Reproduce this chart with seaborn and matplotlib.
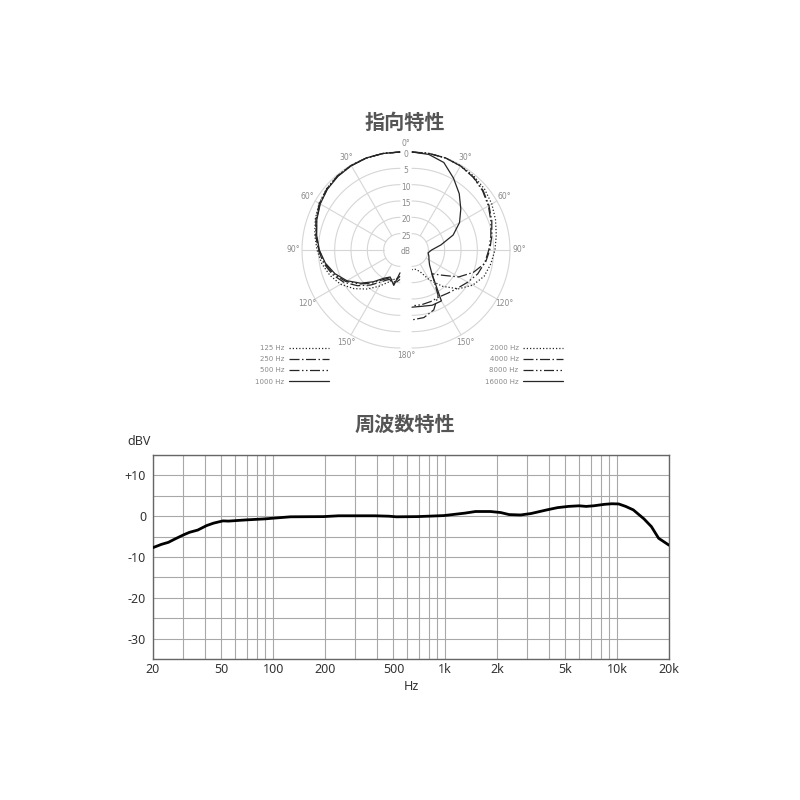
import numpy as np
import pandas as pd
import matplotlib
matplotlib.use("Agg")
import matplotlib.pyplot as plt
import seaborn as sns

# ---- directivity data (attenuation in dB, per angle) ----
angles_deg = [0, 10, 20, 30, 40, 50, 60, 70, 80, 90, 100, 110, 120, 130, 140, 150, 160, 170, 180]

att_125 = [0, 0, 0, 0.1, 0.3, 0.7, 1.4, 2.4, 3.5, 4.6, 5.7, 7.2, 9.0, 11.6, 14.4, 17.2, 19.5, 21.0, 21.5]
att_250 = [0, 0, 0, 0.1, 0.3, 0.8, 1.5, 2.6, 3.8, 5.0, 6.3, 8.0, 10.2, 13.0, 16.0, 18.8, 20.5, 19.5, 21.0]
att_500 = [0, 0, 0, 0.2, 0.4, 0.9, 1.7, 2.8, 4.0, 5.2, 6.6, 8.4, 10.8, 13.8, 16.8, 19.5, 21.0, 20.0, 22.0]
att_1000 = [0, 0, 0, 0.2, 0.5, 1.0, 1.8, 2.9, 4.1, 5.3, 6.8, 8.8, 11.2, 14.2, 17.3, 20.0, 21.2, 19.0, 23.0]

att_2000 = [0, 0, 0, 0.2, 0.5, 1.0, 1.8, 2.8, 3.8, 4.6, 5.5, 6.5, 8.5, 11.5, 15.5, 19.5, 23.0, 24.0, 24.0]
att_4000 = [0, 0, 0, 0.3, 0.8, 1.6, 2.8, 4.0, 5.2, 6.2, 7.2, 10.0, 13.5, 18.0, 20.5, 14.0, 10.5, 9.0, 8.6]
att_8000 = [0, 0, 0, 0.3, 0.9, 1.8, 3.0, 4.3, 5.5, 6.5, 7.4, 8.6, 10.3, 11.8, 12.8, 13.4, 13.2, 13.0, 12.9]
att_16000 = [0, 0.3, 1.5, 4.6, 7.5, 10.5, 13.2, 16.6, 21.0, 24.0, 25.0, 24.5, 24.0, 23.0, 20.5, 12.0, 12.0, 12.5, 12.5]

low_labels = ["125 Hz", "250 Hz", "500 Hz", "1000 Hz"]
high_labels = ["2000 Hz", "4000 Hz", "8000 Hz", "16000 Hz"]
ring_db = [0, 5, 10, 15, 20, 25]
spoke_deg = [30, 60, 90, 120, 150]

# ---- frequency response data ----
freq_hz = [20, 22.4, 24.6, 26.5, 30, 32.6, 36.4, 41, 45, 51, 55, 70, 90, 99, 126, 196, 240,
           390, 470, 520, 690, 980, 1300, 1500, 1830, 2100, 2350, 2740, 3150, 3900, 4500,
           5200, 6000, 6600, 7300, 8400, 9300, 10200, 11200, 12400, 14300, 15800, 17400, 20000]
level_dbv = [-7.7, -6.9, -6.4, -5.7, -4.6, -3.95, -3.4, -2.3, -1.7, -1.15, -1.2, -0.9, -0.65, -0.5,
             -0.15, -0.1, 0.1, 0.1, 0.0, -0.15, -0.1, 0.15, 0.75, 1.15, 1.15, 0.9, 0.4, 0.3, 0.65,
             1.55, 2.1, 2.4, 2.55, 2.4, 2.55, 2.9, 3.05, 3.0, 2.4, 1.55, -0.65, -2.55, -5.4, -7.1]
xtick_pos = [20, 50, 100, 200, 500, 1000, 2000, 5000, 10000, 20000]
xtick_lab = ["20", "50", "100", "200", "500", "1k", "2k", "5k", "10k", "20k"]
ytick_pos = [10, 0, -10, -20, -30]
ytick_lab = ["+10", "0", "-10", "-20", "-30"]

sns.set_theme(style="white")
plt.rcParams['font.family'] = ['Noto Sans', 'Noto Sans CJK JP', 'DejaVu Sans']

fig = plt.figure(figsize=(8, 8), dpi=100)
fig.patch.set_facecolor('white')

TITLE_KW = dict(family=['Noto Sans CJK JP'], fontweight='bold', fontsize=14.5, color='#555555',
                ha='center', va='center')
fig.text(405 / 800, 1 - 122 / 800, "指向特性", **TITLE_KW)
fig.text(405 / 800, 1 - 424 / 800, "周波数特性", **TITLE_KW)

# ==========================================
# polar (split half-disks) in pixel-like units
# ==========================================
axp = fig.add_axes([250 / 800, 1 - 395 / 800, 312 / 800, 265 / 800])
axp.set_xlim(-156, 156)
axp.set_ylim(-145, 120)
axp.axis('off')

R = 98.0
GAP = 6.0
GRID_C = '#d6d6d6'
LBL_C = '#8a8a8a'
r_in = R * (30 - 25) / 30


def to_xy(att, side):
    th = np.radians(angles_deg)
    r = R * (30 - np.asarray(att, dtype=float)) / 30
    return side * (GAP + r * np.sin(th)), r * np.cos(th)


th = np.linspace(0, np.pi, 181)
for d in ring_db:
    r = R * (30 - d) / 30
    for side in (-1, 1):
        axp.plot(side * (GAP + r * np.sin(th)), r * np.cos(th), color=GRID_C, lw=0.8, zorder=1)
    axp.text(0, r - 2.5, str(d), ha='center', va='center', fontsize=5.5, color=LBL_C,
             family='DejaVu Sans')
axp.text(0, -1, "dB", ha='center', va='center', fontsize=5.5, color=LBL_C, family='DejaVu Sans')
axp.text(0, 107, "0°", ha='center', va='center', fontsize=5.5, color=LBL_C, family='DejaVu Sans')
axp.text(0, -106, "180°", ha='center', va='center', fontsize=5.5, color=LBL_C, family='DejaVu Sans')

for a in spoke_deg:
    t = np.radians(a)
    for side in (-1, 1):
        axp.plot([side * (GAP + r_in * np.sin(t)), side * (GAP + R * np.sin(t))],
                 [r_in * np.cos(t), R * np.cos(t)], color=GRID_C, lw=0.8, zorder=1)
        axp.text(side * (GAP + 107 * np.sin(t)), 107 * np.cos(t), f"{a}°", ha='center', va='center',
                 fontsize=5.5, color=LBL_C, family='DejaVu Sans')

styles = [(0, (1, 1.6)), (0, (8, 2, 1.2, 2)), (0, (8, 2, 1.2, 2, 1.2, 2)), '-']
CURVE_C = '#262626'

low_lines = []
for att, ls in zip([att_125, att_250, att_500, att_1000], styles):
    x, y = to_xy(att, -1)
    ln, = axp.plot(x, y, color=CURVE_C, lw=0.9, ls=ls, zorder=3)
    low_lines.append(ln)

high_lines = []
for att, ls in zip([att_2000, att_4000, att_8000, att_16000], styles):
    x, y = to_xy(att, 1)
    ln, = axp.plot(x, y, color=CURVE_C, lw=0.9, ls=ls, zorder=3)
    high_lines.append(ln)

leg_kw = dict(markerfirst=False, frameon=False, handlelength=5.8, handletextpad=0.6,
              labelspacing=0.75, borderpad=0, borderaxespad=0, labelcolor=LBL_C,
              bbox_transform=fig.transFigure, prop={'family': 'DejaVu Sans', 'size': 5})
leg1 = axp.legend(low_lines, low_labels, loc='upper right',
                  bbox_to_anchor=(329 / 800, 1 - 345 / 800), **leg_kw)
axp.add_artist(leg1)
axp.legend(high_lines, high_labels, loc='upper right',
           bbox_to_anchor=(563 / 800, 1 - 345 / 800), **leg_kw)

# ==========================================
# frequency response
# ==========================================
axf = fig.add_axes([153 / 800, 1 - 659 / 800, 516 / 800, 204 / 800])
df = pd.DataFrame({'Hz': freq_hz, 'dBV': level_dbv})
sns.lineplot(data=df, x='Hz', y='dBV', ax=axf, color='black', lw=2, zorder=3)
axf.set_xscale('log')
axf.set_xlim(20, 20000)
axf.set_ylim(-35, 15)

minor_x = [m * 10 ** e for e in range(1, 5) for m in range(1, 10) if 20 <= m * 10 ** e <= 20000]
axf.set_xticks(minor_x, minor=True)
axf.set_xticks(xtick_pos)
axf.set_xticklabels(xtick_lab)
axf.set_yticks(list(range(-35, 16, 5)), minor=True)
axf.set_yticks(ytick_pos)
axf.set_yticklabels(ytick_lab)
axf.xaxis.set_minor_formatter(matplotlib.ticker.NullFormatter())
axf.tick_params(which='both', length=0, labelsize=9, colors='#333333')
axf.tick_params(axis='x', pad=3)
axf.tick_params(axis='y', pad=5)
axf.grid(True, which='both', color='#a8a8a8', lw=0.8)
for sp in axf.spines.values():
    sp.set_color('#666666')
    sp.set_linewidth(1.0)
axf.set_xlabel("Hz", fontsize=9, color='#333333', labelpad=3)
axf.set_ylabel("")
axf.text(-0.05, 1.065, "dBV", transform=axf.transAxes, fontsize=9, color='#333333',
         ha='left', va='center')

fig.savefig("out.png", dpi=100, facecolor='white')
